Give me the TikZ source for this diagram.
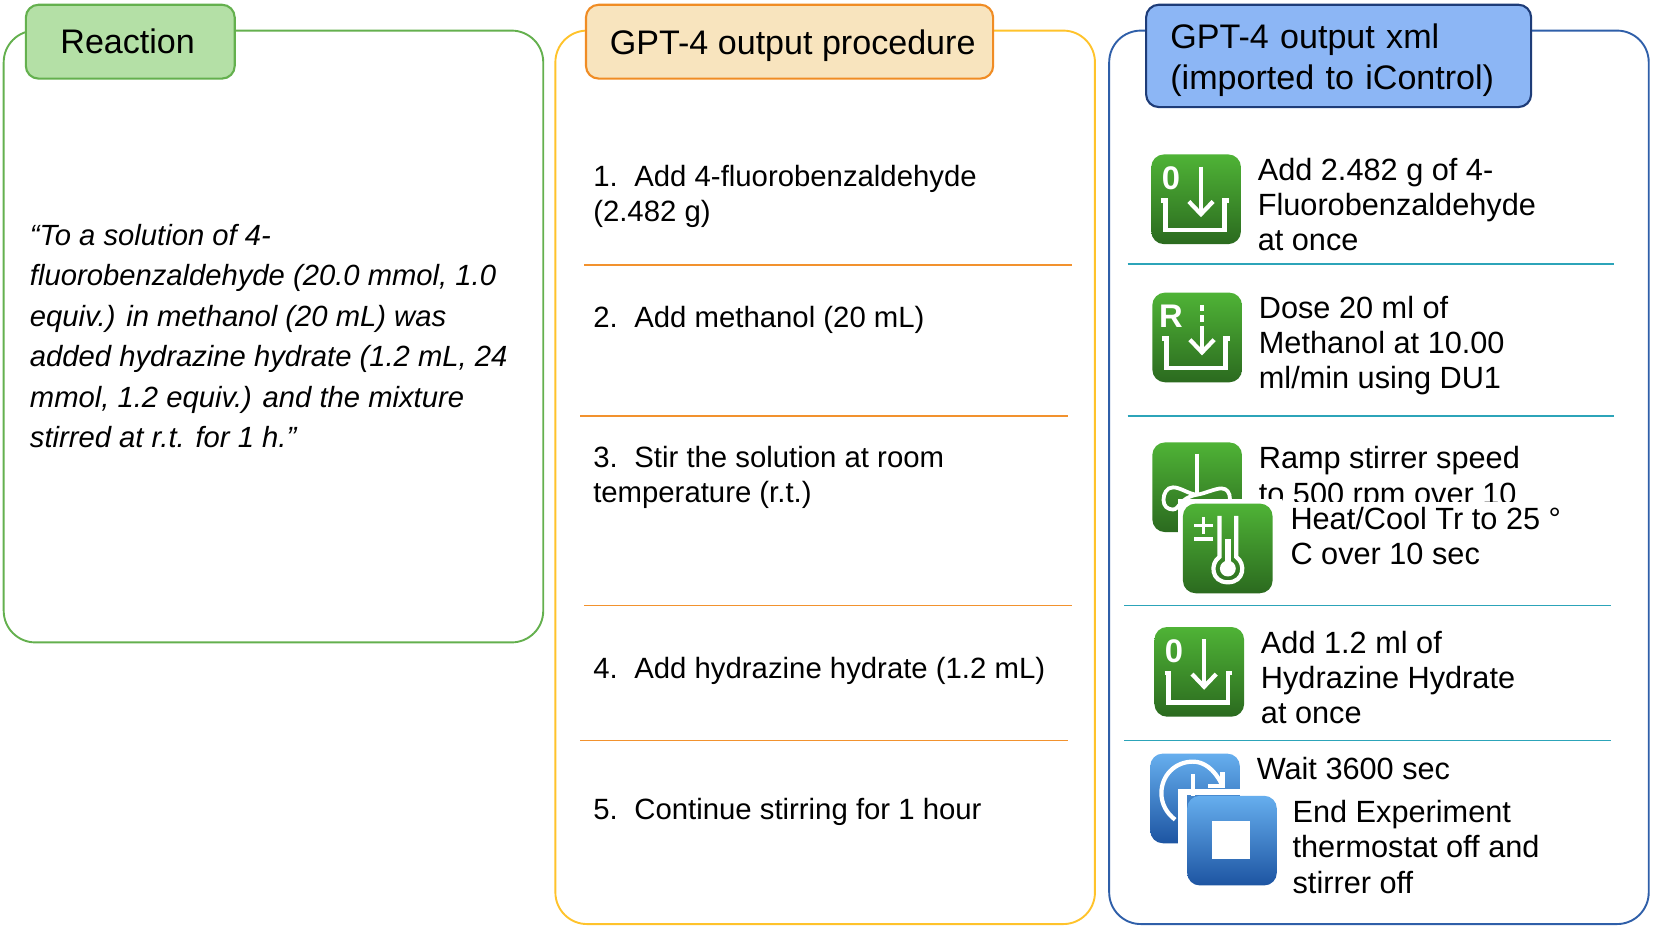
\documentclass[tikz,border=0pt]{standalone}
\usepackage{fontspec}
\setmainfont{Liberation Sans}
\definecolor{greenln}{HTML}{64B04E}
\definecolor{greenfl}{HTML}{B4E0A6}
\definecolor{yellowln}{HTML}{FFC32B}
\definecolor{orangeln}{HTML}{F08C24}
\definecolor{orangefl}{HTML}{F8E4BE}
\definecolor{orangesep}{HTML}{F2922E}
\definecolor{blueln}{HTML}{2F5FA9}
\definecolor{bluedk}{HTML}{1E3C78}
\definecolor{bluefl}{HTML}{8CB6F5}
\definecolor{tealsep}{HTML}{2CA4B9}
\definecolor{gtop}{HTML}{4FB336}
\definecolor{gmid}{HTML}{3B982B}
\definecolor{gbot}{HTML}{2B6A1F}
\definecolor{btop}{HTML}{66AEEE}
\definecolor{bmid}{HTML}{1A7FD9}
\definecolor{bbot}{HTML}{1D55A2}
\tikzset{
  panel/.style={draw=#1,line width=0.9pt,rounded corners=15pt,fill=white},
  header/.style n args={3}{draw=#1,fill=#2,line width=1pt,rounded corners=6pt,anchor=north west,inner sep=0pt,minimum width=#3},
  titletext/.style={font=\fontsize{16.15}{19.5}\selectfont,align=left},
  proctext/.style={font=\fontsize{13.9}{16.5}\selectfont,align=left,anchor=north west,inner sep=0pt},
  quotetext/.style={font=\fontsize{13.85}{19.2}\selectfont\itshape,align=left,anchor=north west,inner sep=0pt},
  steptext/.style={font=\fontsize{14.55}{16.65}\selectfont,align=left,anchor=north west,inner sep=0pt},
  sepo/.style={draw=orangesep,line width=0.9pt},
  sept/.style={draw=tealsep,line width=0.9pt},
  greenicon/.style={anchor=north west,minimum size=42.5pt,inner sep=0pt,rounded corners=6pt,top color=gtop,middle color=gmid,bottom color=gbot},
  blueicon/.style={anchor=north west,minimum size=42.5pt,inner sep=0pt,rounded corners=6pt,top color=btop,middle color=bmid,bottom color=bbot},
  iconline/.style={draw=white,line width=2pt},
  iconletter/.style={text=white,font=\fontsize{15.5}{15.5}\bfseries\selectfont,inner sep=0pt},
}
\newcommand{\addtray}{%
  \draw[iconline,line width=2.2pt] (10,44)--(14,44)--(14,72)--(70,72)--(70,44)--(74,44);
  \draw[iconline] (36,45)--(47.5,57)--(59,45);
}
\newcommand{\procstep}[1]{\makebox[19.5pt][l]{#1}}
\begin{document}
\begin{tikzpicture}[x=0.5pt,y=-0.5pt]
\useasboundingbox (0,0) rectangle (1568,879.7);
\fill[white] (0,0) rectangle (1568,879.7);
% panels
\draw[panel=greenln] (3.5,29) rectangle (515,609);
\draw[panel=yellowln] (526.5,29) rectangle (1038,876);
\draw[panel=blueln] (1051.5,29) rectangle (1563,876);
% headers
\node[header={greenln}{greenfl}{99pt},minimum height=35pt,titletext] (h1) at (23.5,3.5) {Reaction\hspace*{2.5pt}};
\node[header={orangeln}{orangefl}{193pt},minimum height=35pt,titletext,text depth=0pt] (h2) at (554.5,3.5) {\hspace*{3pt}GPT-4 output procedure};
\node[header={bluedk}{bluefl}{182.5pt},minimum height=48.5pt,titletext,inner xsep=11.5pt,text width=159.5pt] (h3) at (1085.5,3.5) {\rule{0pt}{15.8pt}GPT-4 output xml\\(imported to iControl)};
% reaction quote
\node[quotetext] (quote) at (28,212) {“To a solution of 4-\\fluorobenzaldehyde (20.0 mmol, 1.0\\equiv.) in methanol (20 mL) was\\added hydrazine hydrate (1.2 mL, 24\\mmol, 1.2 equiv.) and the mixture\\stirred at r.t. for 1 h.”};
% procedure
\node[proctext] (p1) at (562,156) {\procstep{1.}Add 4-fluorobenzaldehyde\\(2.482 g)};
\node[proctext] (p2) at (562,290) {\procstep{2.}Add methanol (20 mL)};
\node[proctext] (p3) at (562,423) {\procstep{3.}Stir the solution at room\\temperature (r.t.)};
\node[proctext] (p4) at (562,623) {\procstep{4.}Add hydrazine hydrate (1.2 mL)};
\node[proctext] (p5) at (562,756) {\procstep{5.}Continue stirring for 1 hour};
\draw[sepo] (554,251)--(1016,251);
\draw[sepo] (550,394)--(1012,394);
\draw[sepo] (554,574)--(1016,574);
\draw[sepo] (550,702)--(1012,702);
% teal separators
\draw[sept] (1069,250.5)--(1530,250.5);
\draw[sept] (1069,394)--(1530,394);
\draw[sept] (1066,574)--(1527,574);
\draw[sept] (1066,702)--(1527,702);
% step 1
\node[greenicon] (i1) at (1091,146) {};
\begin{scope}[shift={(1091,146)}]
  \node[iconletter] (i1l) at (19,23) {0};
  \draw[iconline] (47.5,12)--(47.5,56);
  \addtray
\end{scope}
\node[steptext] (s1) at (1192,149.5) {Add 2.482 g of 4-\\Fluorobenzaldehyde\\at once};
% step 2
\node[greenicon] (i2) at (1092,277) {};
\begin{scope}[shift={(1092,277)}]
  \node[iconletter] (i2l) at (18,23) {R};
  \draw[iconline] (47.5,12)--(47.5,18);
  \draw[iconline] (47.5,22)--(47.5,28);
  \draw[iconline] (47.5,32)--(47.5,56);
  \addtray
\end{scope}
\node[steptext] (s2) at (1193,280) {Dose 20 ml of\\Methanol at 10.00\\ml/min using DU1};
% step 3 (stirrer)
\node[greenicon] (i3) at (1092,419) {};
\begin{scope}[shift={(1092,419)}]
  \draw[iconline] (42.5,11)--(42.5,50);
  \draw[iconline,line width=1.8pt] (42.5,50) .. controls (34,49) and (27,43) .. (20,43) .. controls (14,43) and (11,49) .. (11,55) .. controls (11,61) and (15,64) .. (20,64) .. controls (26,64) and (26,53) .. (42.5,50);
  \draw[iconline,line width=1.8pt] (42.5,50) .. controls (50,49) and (60,44) .. (66,44) .. controls (71,44) and (74,48) .. (74,54);
\end{scope}
\node[steptext] (s3) at (1193,423) {Ramp stirrer speed\\to 500 rpm over 10};
% white masks + step 3b
\fill[white] (1117,473) rectangle (1215,566);
\fill[white] (1215,476) rectangle (1500,560);
\node[greenicon] (i4) at (1121,477) {};
\begin{scope}[shift={(1121,477)}]
  \draw[iconline,line width=1.5pt] (11,21)--(29,21);
  \draw[iconline,line width=1.5pt] (20,13)--(20,29);
  \draw[iconline,line width=1.5pt] (11,34)--(29,34);
  \draw[iconline] (35,12)--(35,51) .. controls (26,57) and (27,75) .. (43,75) .. controls (59,75) and (60,57) .. (51,51) -- (51,12);
  \draw[iconline,line width=2.8pt] (43,34)--(43,62);
  \fill[white] (43,62) circle [radius=7.5];
\end{scope}
\node[steptext] (s3b) at (1223,480) {Heat/Cool Tr to 25 °\\C over 10 sec};
% step 4
\node[greenicon] (i5) at (1094,594) {};
\begin{scope}[shift={(1094,594)}]
  \node[iconletter] (i5l) at (19,23) {0};
  \draw[iconline] (47.5,12)--(47.5,56);
  \addtray
\end{scope}
\node[steptext] (s4) at (1195,598) {Add 1.2 ml of\\Hydrazine Hydrate\\at once};
% step 5 (wait)
\node[blueicon] (i6) at (1090,714) {};
\begin{scope}[shift={(1090,714)}]
  \draw[iconline] (68,29) .. controls (61,15) and (51,8) .. (41,8) .. controls (24,8) and (11,21) .. (11,38) .. controls (11,48) and (16,57) .. (24,63);
  \draw[iconline] (41,20)--(41,41);
  \draw[iconline] (55,31)--(69,31)--(69,18);
\end{scope}
\node[steptext] (s5) at (1191,717) {Wait 3600 sec};
% step 6 (end)
\fill[white] (1117,748) rectangle (1125,800);
\fill[white] (1117,748) rectangle (1180,754);
\node[blueicon] (i7) at (1125,754) {};
\begin{scope}[shift={(1125,754)}]
  \fill[white] (24,24) rectangle (60,60);
\end{scope}
\node[steptext] (s6) at (1225,758.5) {End Experiment\\thermostat off and\\stirrer off};
\end{tikzpicture}
\end{document}
